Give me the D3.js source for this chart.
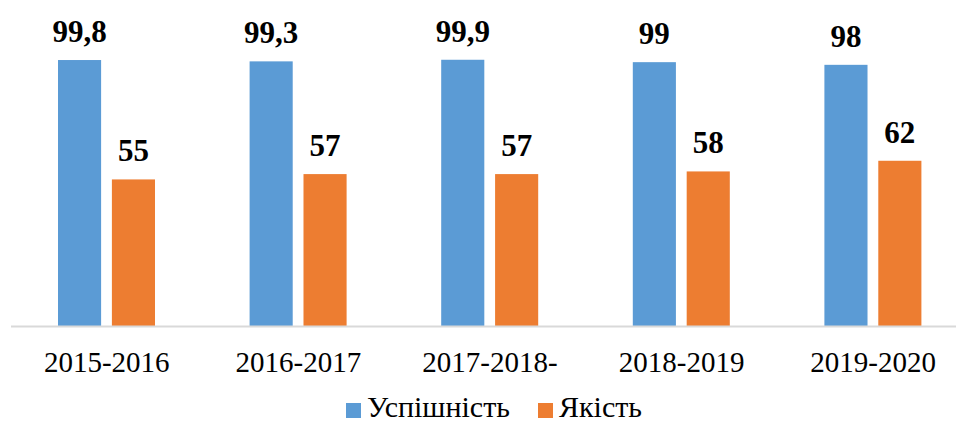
<!DOCTYPE html>
<html>
<head>
<meta charset="utf-8">
<script src="https://cdn.jsdelivr.net/npm/d3@7"></script>
<style>
  body { margin: 0; background: #fff; }
  svg { display: block; }
</style>
</head>
<body>
<svg id="chart" width="956" height="423"></svg>
<script>
// chart data
const years = ['2015-2016', '2016-2017', '2017-2018-', '2018-2019', '2019-2020'];
const seriesNames = ['Успішність', 'Якість'];
const success = [99.8, 99.3, 99.9, 99, 98];
const quality = [55, 57, 57, 58, 62];
const valueLabels = [
  ['99,8', '99,3', '99,9', '99', '98'],
  ['55', '57', '57', '58', '62']
];
const colors = ['#5B9BD5', '#ED7D31'];
const fontFamily = 'Liberation Serif';

function drawChart() {
  const svg = d3.select('#chart');
  svg.selectAll('*').remove();

  let margin = { left: 11, baseline: 326, top: 59.5 };
  let step = 191.6;

  // scales
  let xScale = d3.scaleBand()
    .domain(years)
    .range([margin.left, margin.left + step * years.length]);

  let xSub = d3.scaleBand()
    .domain(seriesNames)
    .range([47, 144])
    .paddingInner(0.2);

  let yScale = d3.scaleLinear()
    .domain([0, 100])
    .range([margin.baseline, margin.top]);

  const series = [success, quality];

  // bars + value labels
  series.forEach((values, si) => {
    const g = svg.append('g');
    g.selectAll('rect')
      .data(values)
      .enter().append('rect')
      .attr('x', (d, i) => xScale(years[i]) + xSub(seriesNames[si]))
      .attr('y', (d) => yScale(d))
      .attr('width', xSub.bandwidth())
      .attr('height', (d) => yScale(0) - yScale(d))
      .attr('fill', colors[si]);

    g.selectAll('text')
      .data(values)
      .enter().append('text')
      .attr('x', (d, i) => xScale(years[i]) + xSub(seriesNames[si]) + xSub.bandwidth() / 2)
      .attr('y', (d) => yScale(d) - 18)
      .attr('text-anchor', 'middle')
      .style('font-family', fontFamily)
      .style('font-size', '31px')
      .style('font-weight', 'bold')
      .attr('fill', '#000')
      .text((d, i) => valueLabels[si][i]);
  });

  // x axis line
  svg.append('line')
    .attr('x1', margin.left)
    .attr('x2', 956)
    .attr('y1', margin.baseline + 0.5)
    .attr('y2', margin.baseline + 0.5)
    .attr('stroke', '#D9D9D9')
    .attr('stroke-width', 2);

  // category labels
  svg.append('g')
    .selectAll('text')
    .data(years)
    .enter().append('text')
    .attr('x', (d) => xScale(d) + xScale.bandwidth() / 2)
    .attr('y', 372)
    .attr('text-anchor', 'middle')
    .style('font-family', fontFamily)
    .style('font-size', '29px')
    .attr('fill', '#000')
    .text((d) => d);

  // legend
  const legendX = [346, 538];
  const legend = svg.append('g');
  seriesNames.forEach((name, i) => {
    legend.append('rect')
      .attr('x', legendX[i])
      .attr('y', 403)
      .attr('width', 15)
      .attr('height', 15)
      .attr('fill', colors[i]);
    legend.append('text')
      .attr('x', legendX[i] + 21)
      .attr('y', 417)
      .style('font-family', fontFamily)
      .style('font-size', '30px')
      .attr('fill', '#000')
      .text(name);
  });
}

drawChart();
</script>
</body>
</html>
